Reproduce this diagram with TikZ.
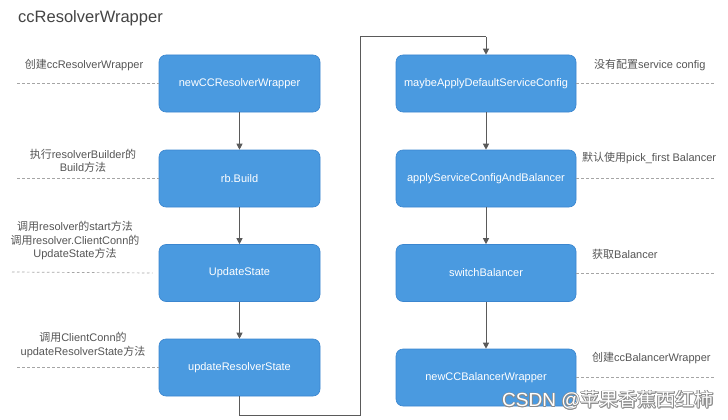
\documentclass[tikz,border=0pt]{standalone}
\usepackage{fontspec}
\setmainfont{Liberation Sans}
\newfontfamily\cjk{Noto Sans CJK SC}
\usetikzlibrary{arrows.meta}
\definecolor{boxfill}{HTML}{4A9AE0}
\definecolor{boxline}{HTML}{3B86CF}
\definecolor{labelgray}{HTML}{555555}
\definecolor{dashgray}{HTML}{A5A5A5}
\definecolor{arrowgray}{HTML}{5A5A5A}
\definecolor{titlegray}{HTML}{444444}
\definecolor{wmgray}{HTML}{8A8A8A}
\tikzset{
  stepbox/.style={draw=boxline, line width=0.6pt, fill=boxfill, rounded corners=7pt,
    text=white, font=\fontsize{11}{13}\selectfont, minimum height=57pt, inner sep=0pt},
  leftbox/.style={stepbox, minimum width=161pt},
  rightbox/.style={stepbox, minimum width=180pt},
  note/.style={text=labelgray, font=\fontsize{11}{13.3}\selectfont, align=center, inner sep=0pt},
  guide/.style={draw=dashgray, line width=0.7pt, dash pattern=on 2.5pt off 2.5pt},
  flow/.style={draw=arrowgray, line width=1pt, -{Triangle[length=6pt,width=6pt]}},
  loop/.style={draw=arrowgray, line width=1pt},
}
\begin{document}
\begin{tikzpicture}[x=1pt,y=-1pt]
\useasboundingbox (0,0) rectangle (728,420);
\fill[white] (0,0) rectangle (728,420);

\node[anchor=west, text=titlegray, font=\fontsize{16.5}{18}\selectfont, inner sep=0pt] (title) at (18,18) {ccResolverWrapper};

% left column
\node[leftbox] (ncrw) at (239.5,83.5) {newCCResolverWrapper};
\node[leftbox] (rb) at (239.5,178.5) {rb.Build};
\node[leftbox] (us) at (239.5,273) {UpdateState};
\node[leftbox] (urs) at (239.5,367.5) {updateResolverState};

% right column
\node[rightbox] (mad) at (486,83.5) {maybeApplyDefaultServiceConfig};
\node[rightbox] (asc) at (486,178.5) {applyServiceConfigAndBalancer};
\node[rightbox] (sb) at (486,273) {switchBalancer};
\node[rightbox] (ncbw) at (486,377.5) {newCCBalancerWrapper};

% arrows
\draw[flow] (ncrw) -- (rb);
\draw[flow] (rb) -- (us);
\draw[flow] (us) -- (urs);
\draw[flow] (mad) -- (asc);
\draw[flow] (asc) -- (sb);
\draw[flow] (sb) -- (ncbw);

\coordinate (lp1) at (239.5,415);
\coordinate (lp2) at (360.5,415);
\coordinate (lp3) at (360.5,37);
\coordinate (lp4) at (486,37);
\draw[loop] (urs.south) -- (lp1) -- (lp2) -- (lp3) -- (lp4);
\draw[flow] (lp4) -- (mad.north);

% left guides
\coordinate (g1) at (17,83.5);
\coordinate (g2) at (17,178.5);
\coordinate (g3) at (12,272);
\coordinate (g4) at (17,367.5);
\draw[guide] (g1) -- (ncrw.west);
\draw[guide] (g2) -- (rb.west);
\draw[guide] (g3) -- ([xshift=-6pt]us.west);
\draw[guide] (g4) -- (urs.west);

% right guides
\coordinate (h1) at (716,83.5);
\coordinate (h2) at (716,178.5);
\coordinate (h3) at (716,273);
\coordinate (h4) at (716,377.5);
\draw[guide] (mad.east) -- (h1);
\draw[guide] (asc.east) -- (h2);
\draw[guide] (sb.east) -- (h3);
\draw[guide] (ncbw.east) -- (h4);

% left notes
\node[note] (n1) at (84,65) {{\cjk 创建}ccResolverWrapper};
\node[note] (n2) at (83,161) {{\cjk 执行}resolverBuilder{\cjk 的}\\Build{\cjk 方法}};
\node[note] (n3) at (75,240.5) {{\cjk 调用}resolver{\cjk 的}start{\cjk 方法}\\{\cjk 调用}resolver.ClientConn{\cjk 的}\\UpdateState{\cjk 方法}};
\node[note] (n4) at (83,345) {{\cjk 调用}ClientConn{\cjk 的}\\updateResolverState{\cjk 方法}};

% right notes
\node[note, anchor=west] (m1) at (594,65) {{\cjk 没有配置}service config};
\node[note, anchor=west] (m2) at (582,158) {{\cjk 默认使用}pick\_first Balancer};
\node[note, anchor=west] (m3) at (592,254) {{\cjk 获取}Balancer};
\node[note, anchor=west] (m4) at (592,358) {{\cjk 创建}ccBalancerWrapper};

% watermark
\foreach \dx/\dy in {-0.7/0,0.7/0,0/-0.7,0/0.7,-0.5/-0.5,0.5/0.5,-0.5/0.5,0.5/-0.5}{
  \node[anchor=west, inner sep=0pt, text=wmgray, font=\fontsize{19}{20}\selectfont] at (502+\dx,400+\dy) {CSDN @{\cjk 苹果香蕉西红柿}};
}
\node[anchor=west, inner sep=0pt, text=white, font=\fontsize{19}{20}\selectfont] (wm) at (502,400) {CSDN @{\cjk 苹果香蕉西红柿}};
\end{tikzpicture}
\end{document}
